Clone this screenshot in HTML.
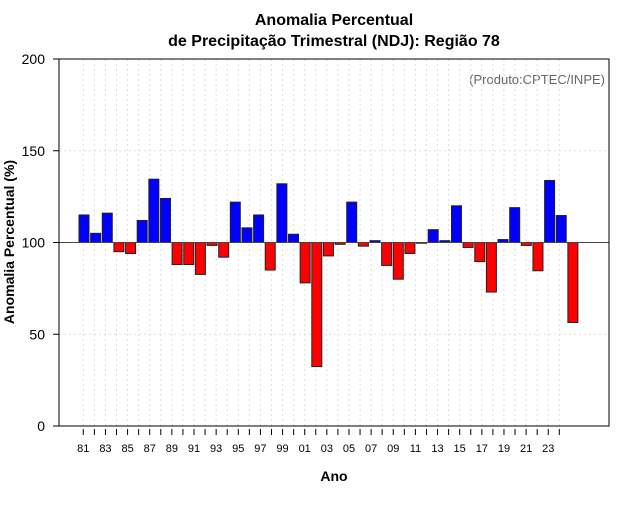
<!DOCTYPE html>
<html><head><meta charset="utf-8"><style>
body{margin:0;background:#fff;font-family:"Liberation Sans",sans-serif}
</style></head><body>
<svg id="chart" width="640" height="500" xmlns="http://www.w3.org/2000/svg" font-family="Liberation Sans, sans-serif">
<rect width="640" height="500" fill="#fff"/>
<text x="334" y="25" text-anchor="middle" font-size="16" font-weight="bold">Anomalia Percentual</text>
<text x="334" y="46" text-anchor="middle" font-size="16" font-weight="bold">de Precipitação Trimestral (NDJ): Região 78</text>
<text x="605" y="84" text-anchor="end" font-size="13" fill="#666">(Produto:CPTEC/INPE)</text>
<text x="334" y="481" text-anchor="middle" font-size="14" font-weight="bold">Ano</text>
<text transform="translate(14,242) rotate(-90)" text-anchor="middle" font-size="14" font-weight="bold">Anomalia Percentual (%)</text>
<g id="grid"></g><g id="bars"></g><g id="axes"></g>
<rect x="59" y="59" width="550" height="367" fill="none" stroke="#000" stroke-width="1"/>
</svg>
<script>
const years=["81","82","83","84","85","86","87","88","89","90","91","92","93","94","95","96","97","98","99","00","01","02","03","04","05","06","07","08","09","10","11","12","13","14","15","16","17","18","19","20","21","22","23"];
const values=[115,105,116,95,94,112,134.5,124,88,88,82.6,98.4,92,122,108,115,85,132,104.5,78,32.4,92.7,99,122,98,101,87.5,80,94,99.6,107,101,120,97.3,89.6,73,101.6,119,98.4,84.6,133.8,114.7,56.4];
const yTicks=[0,50,100,150,200];
const NS="http://www.w3.org/2000/svg";
const L=59,R=609,T=59,B=426;
const y=v=>B-(v/200)*(B-T);
const xBar=i=>84+i*11.64;
const xTick=i=>83.3+i*11.07;
function mk(tag,attrs,parent){const e=document.createElementNS(NS,tag);for(const k in attrs)e.setAttribute(k,attrs[k]);document.getElementById(parent).appendChild(e);return e;}
// grid
for(let i=0;i<=43;i++){
 const g=mk('line',{x1:xTick(i),x2:xTick(i),y1:T,y2:B,stroke:'#ddd','stroke-dasharray':'2,3'},'grid');
 
 
}
yTicks.forEach(v=>{
 if(v===0||v===200||v===100)return;
 const g=mk('line',{x1:L,x2:R,y1:y(v),y2:y(v),stroke:'#ddd','stroke-dasharray':'2,3'},'grid');
 
 
});
// bars
values.forEach((v,i)=>{
 const top=Math.min(y(v),y(100)),h=Math.abs(y(v)-y(100));
 const b=mk('rect',{x:xBar(i)-5,y:top,width:10,height:h,fill:v>=100?'#0000ff':'#ff0000',stroke:'#222','stroke-width':1},'bars');
 
 
});
const ref=mk('line',{x1:L,x2:R,y1:y(100),y2:y(100),stroke:'#444','stroke-width':1},'axes');


// y ticks
yTicks.forEach(v=>{
 const t=mk('line',{x1:L-6,x2:L,y1:y(v),y2:y(v),stroke:'#000'},'axes');
 
 
 const lb=mk('text',{x:L-14,y:y(v)+5,'text-anchor':'end','font-size':14},'axes');
 lb.textContent=v;
 
 
});
// x ticks
for(let i=0;i<=43;i++){
 const t=mk('line',{x1:xTick(i),x2:xTick(i),y1:B+3,y2:B+9,stroke:'#000'},'axes');
 
 
 if(i%2===0&&i<years.length){
  const lb=mk('text',{x:xTick(i),y:B+26,'text-anchor':'middle','font-size':11},'axes');
  lb.textContent=years[i];
  
  
 }
}
</script>
</body></html>
